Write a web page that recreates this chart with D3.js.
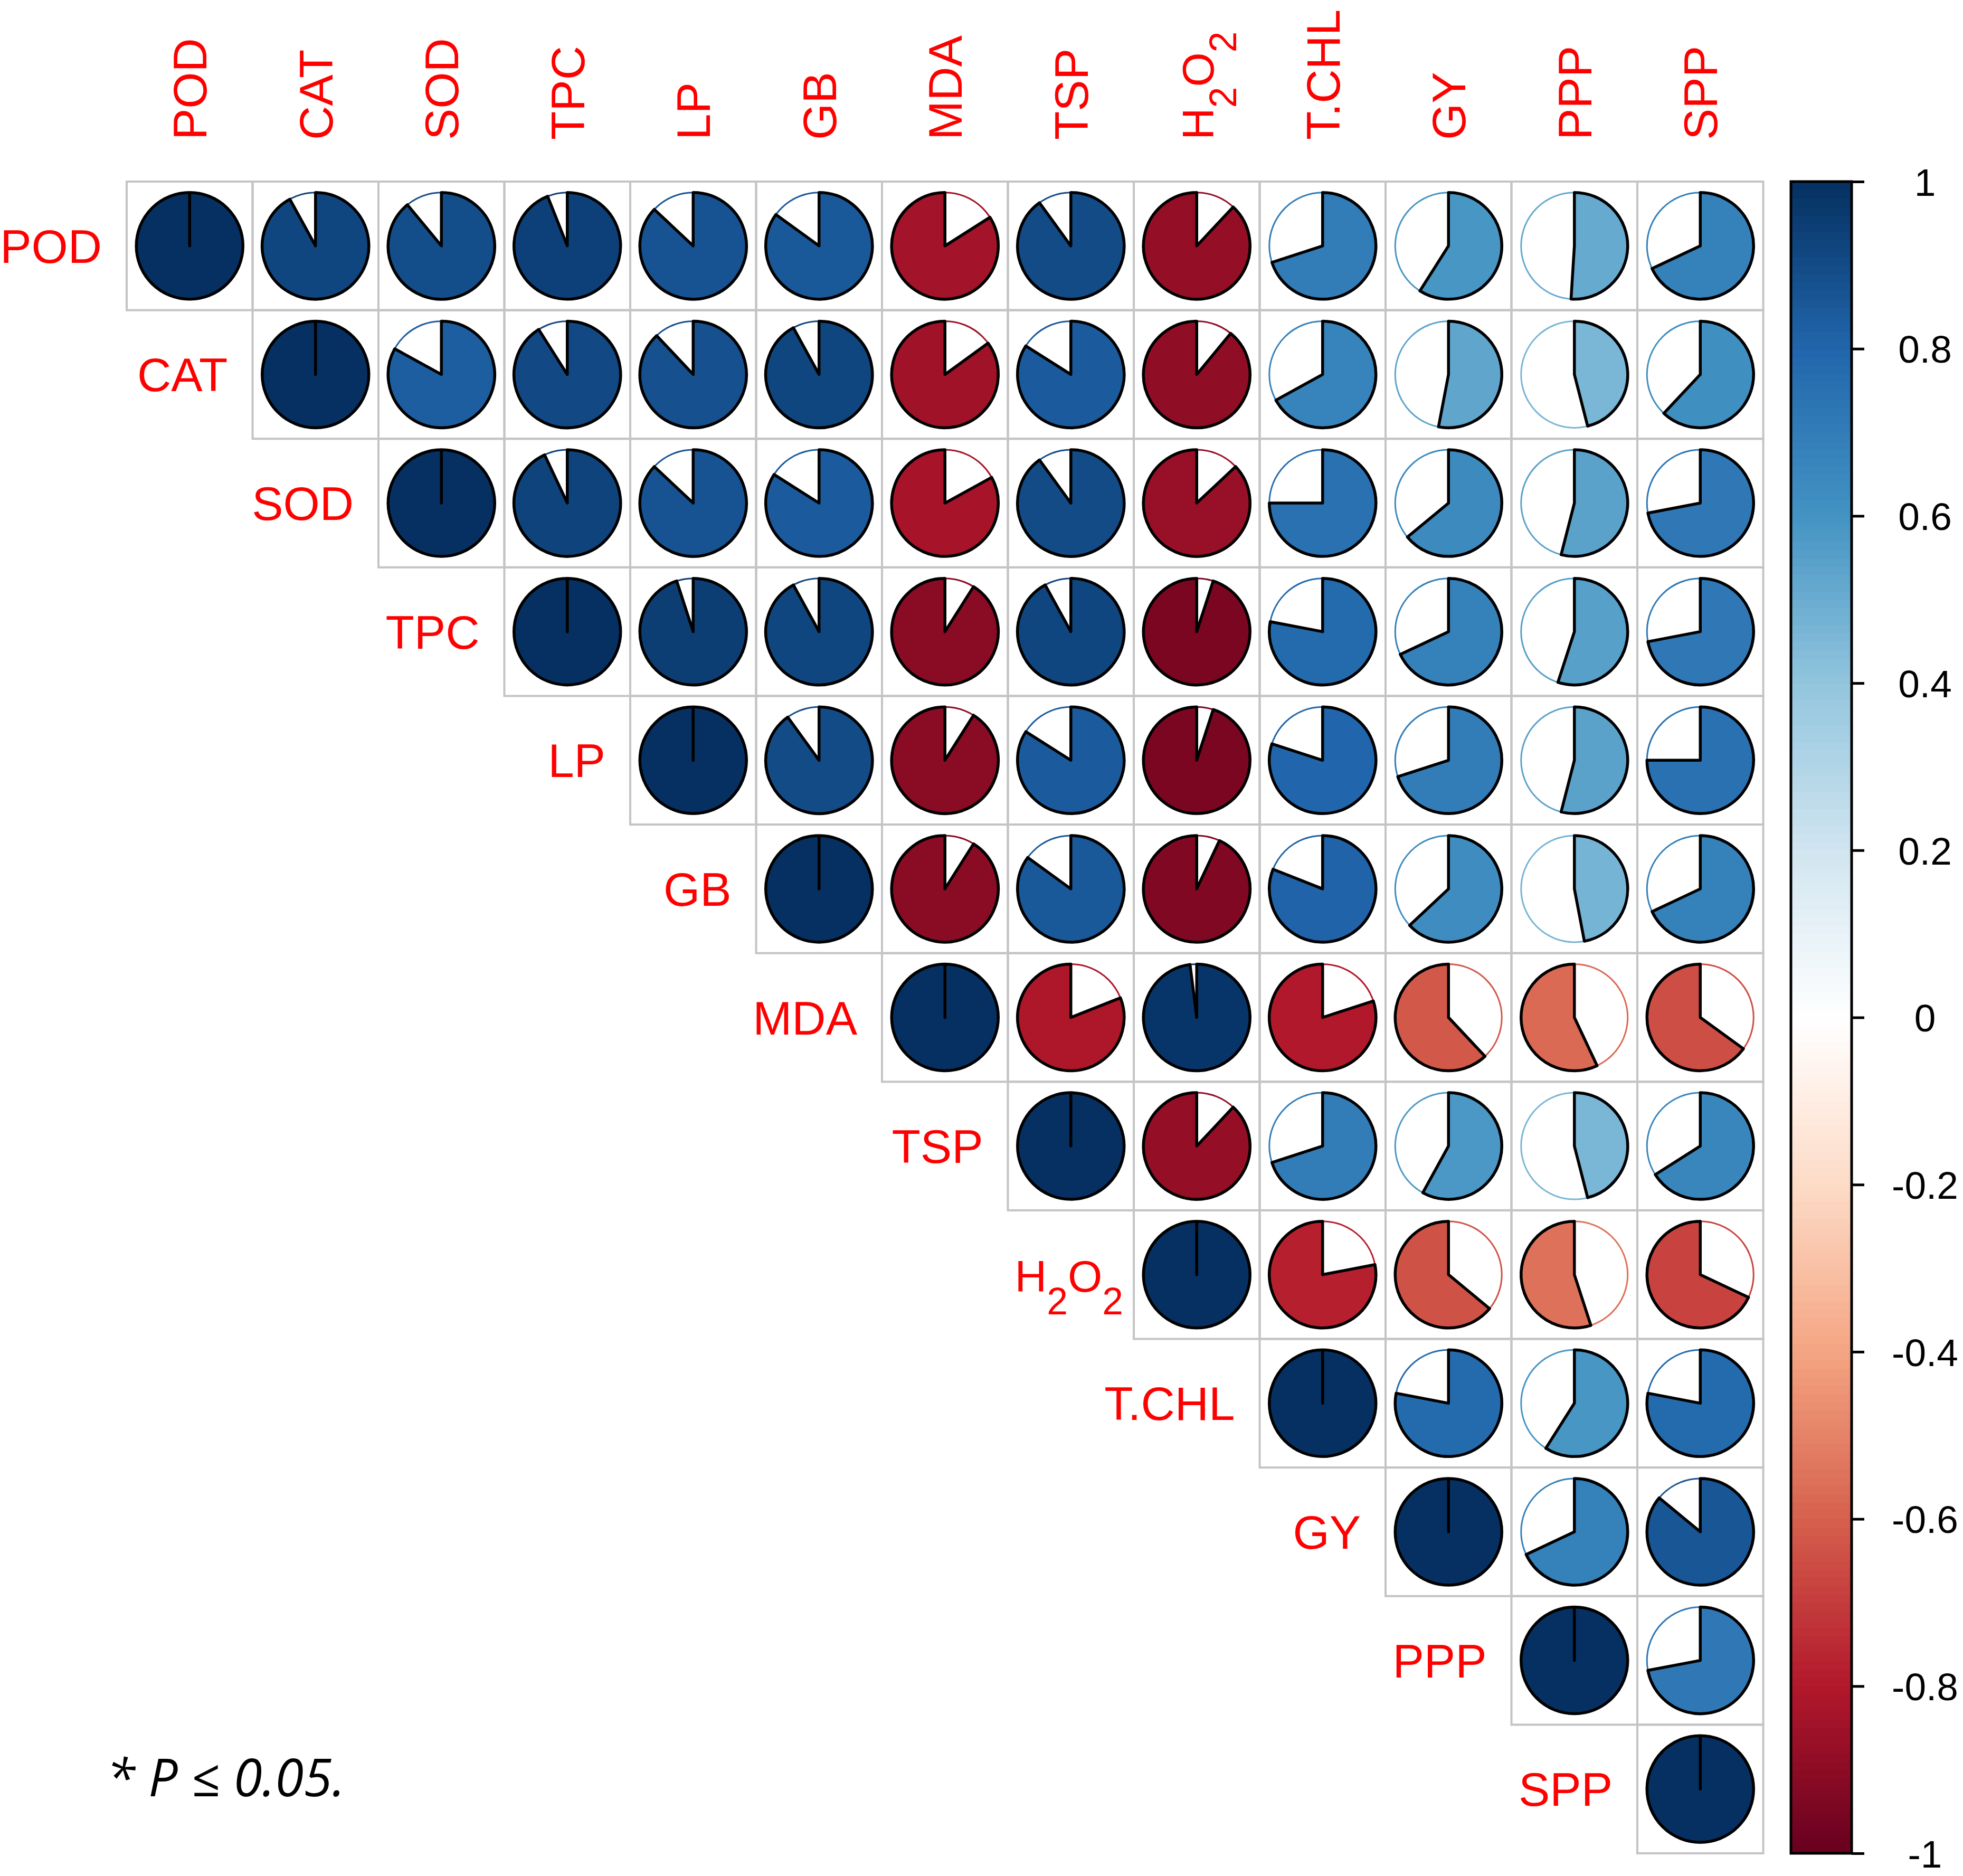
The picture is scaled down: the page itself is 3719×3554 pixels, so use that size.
<!DOCTYPE html>
<html><head><meta charset="utf-8">
<script src="https://cdn.jsdelivr.net/npm/d3@7"></script>
<style>body{margin:0;background:#fff}</style>
</head><body><svg id="c" width="3719" height="3554"></svg>
<script>
// ---- data ----
const variables = ["POD","CAT","SOD","TPC","LP","GB","MDA","TSP","H2O2","T.CHL","GY","PPP","SPP"];
// upper-triangle correlations, each row starts at the diagonal
const rPOD  = [1, 0.92, 0.89, 0.94, 0.87, 0.85, -0.84, 0.90, -0.88, 0.70, 0.59, 0.51, 0.68];
const rCAT  = [1, 0.83, 0.91, 0.88, 0.92, -0.85, 0.84, -0.89, 0.67, 0.53, 0.46, 0.62];
const rSOD  = [1, 0.93, 0.87, 0.84, -0.83, 0.90, -0.87, 0.75, 0.64, 0.54, 0.72];
const rTPC  = [1, 0.95, 0.92, -0.91, 0.92, -0.95, 0.78, 0.68, 0.55, 0.72];
const rLP   = [1, 0.90, -0.91, 0.84, -0.95, 0.80, 0.70, 0.54, 0.75];
const rGB   = [1, -0.91, 0.85, -0.93, 0.81, 0.63, 0.47, 0.68];
const rMDA  = [1, -0.81, 0.98, -0.80, -0.62, -0.57, -0.65];
const rTSP  = [1, -0.88, 0.70, 0.58, 0.46, 0.66];
const rH2O2 = [1, -0.78, -0.64, -0.55, -0.68];
const rTCHL = [1, 0.78, 0.59, 0.78];
const rGY   = [1, 0.68, 0.86];
const rPPP  = [1, 0.72];
const rSPP  = [1];
const corrRows = [rPOD, rCAT, rSOD, rTPC, rLP, rGB, rMDA, rTSP, rH2O2, rTCHL, rGY, rPPP, rSPP];
const paletteStops = ["#67001F","#B2182B","#D6604D","#F4A582","#FDDBC7","#FFFFFF","#D1E5F0","#92C5DE","#4393C3","#2166AC","#053061"];
const legendTicks = [1, 0.8, 0.6, 0.4, 0.2, 0, -0.2, -0.4, -0.6, -0.8, -1];
const legendTickLabels = ["1","0.8","0.6","0.4","0.2","0","-0.2","-0.4","-0.6","-0.8","-1"];
const footnote = "* P \u2264 0.05.";

// ---- drawing ----
const svg = d3.select("#c");
svg.append("rect").attr("width", 3719).attr("height", 3554).attr("fill", "#fff");
const FONT = "'Liberation Sans', Arial, sans-serif";

const x = d3.scaleBand().domain(variables).range([240, 240 + 13 * 238.5]);
const y = d3.scaleBand().domain(variables).range([344, 3511]);
const color = d3.scaleLinear()
  .domain(d3.range(11).map(i => -1 + i * 0.2))
  .range(paletteStops)
  .interpolate(d3.interpolateRgb);

const cells = [];
corrRows.forEach((arr, i) => arr.forEach((v, k) => cells.push({row: variables[i], col: variables[i + k], v})));

// grid
svg.append("g").selectAll("rect").data(cells).join("rect")
  .attr("x", d => x(d.col)).attr("y", d => y(d.row))
  .attr("width", x.bandwidth()).attr("height", y.bandwidth())
  .attr("fill", "none").attr("stroke", "#C4C4C4").attr("stroke-width", 4);

const R = 101;
function pt(t) { return [R * Math.sin(t), -R * Math.cos(t)]; }
function piePath(v) {
  const a = Math.abs(v) * 2 * Math.PI;
  const s = v >= 0 ? 0 : -a, e = v >= 0 ? a : 0, m = (s + e) / 2;
  const p0 = pt(s), p1 = pt(m), p2 = pt(e);
  return `M0,0L${p0[0]},${p0[1]}A${R},${R} 0 0 1 ${p1[0]},${p1[1]}A${R},${R} 0 0 1 ${p2[0]},${p2[1]}Z`;
}

const pies = svg.append("g").selectAll("g").data(cells).join("g")
  .attr("transform", d => `translate(${x(d.col) + x.bandwidth() / 2},${y(d.row) + y.bandwidth() / 2})`);
pies.append("circle").attr("r", R).attr("fill", "#fff")
  .attr("stroke", d => color(d.v)).attr("stroke-width", 3);
pies.append("path").attr("d", d => piePath(d.v))
  .attr("fill", d => color(d.v)).attr("stroke", "#000").attr("stroke-width", 5.5)
  .attr("stroke-linejoin", "round");

// labels
function writeLabel(sel, name, size) {
  if (name === "H2O2") {
    const sub = size * 0.85, sh = 43;
    sel.append("tspan").text("H");
    sel.append("tspan").attr("font-size", sub).attr("dy", sh).text("2");
    sel.append("tspan").attr("dy", -sh).text("O");
    sel.append("tspan").attr("font-size", sub).attr("dy", sh).text("2");
  } else sel.text(name);
}
const LS = 89;
variables.forEach(v => {
  const isH = v === "H2O2";
  const size = isH ? 84 : LS;
  const t = svg.append("text")
    .attr("x", x(v) - (isH ? 20 : 47))
    .attr("y", y(v) + y.bandwidth() / 2 + 32)
    .attr("text-anchor", "end").attr("font-family", FONT)
    .attr("font-size", size).attr("fill", "#FF0000");
  writeLabel(t, v, size);
  const c = svg.append("text")
    .attr("transform", `translate(${x(v) + x.bandwidth() / 2 + 32},265) rotate(-90)`)
    .attr("text-anchor", "start").attr("font-family", FONT)
    .attr("font-size", size).attr("fill", "#FF0000");
  writeLabel(c, v, size);
});

// colour legend
const ly = d3.scaleLinear().domain([-1, 1]).range([3511, 344]);
const steps = d3.range(200).map(k => -1 + (k + 0.5) * 2 / 200);
const lg = svg.append("g");
lg.selectAll("rect").data(steps).join("rect")
  .attr("x", 3393).attr("width", 115)
  .attr("y", d => ly(d + 0.005)).attr("height", ly(-1) - ly(-0.99) + 0.8)
  .attr("fill", d => color(d));
lg.append("rect").attr("x", 3393).attr("y", 344).attr("width", 115).attr("height", 3511 - 344)
  .attr("fill", "none").attr("stroke", "#000").attr("stroke-width", 5);
const axis = svg.append("g").attr("transform", "translate(3508,0)")
  .call(d3.axisRight(ly).tickValues(legendTicks).tickSize(24)
    .tickFormat((d, i) => legendTickLabels[i]));
axis.select(".domain").remove();
axis.selectAll("line").attr("stroke", "#000").attr("stroke-width", 5);
axis.selectAll("text").attr("x", 139).attr("text-anchor", "middle")
  .attr("font-family", FONT).attr("font-size", 73).attr("fill", "#000").attr("dy", "0.36em");

// footnote
svg.append("text").attr("x", 202).attr("y", 3403)
  .attr("font-family", "'Open Sans', 'Noto Sans', sans-serif").attr("font-style", "italic")
  .attr("font-size", 98).attr("fill", "#000").text(footnote);
</script></body></html>
